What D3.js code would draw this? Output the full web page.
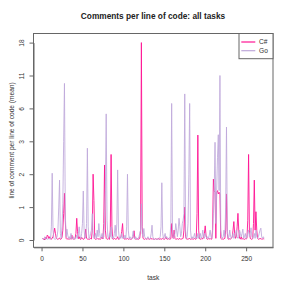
<!DOCTYPE html>
<html><head><meta charset="utf-8">
<script src="https://cdn.jsdelivr.net/npm/d3@7"></script>
<style>html,body{margin:0;padding:0;background:#fff;}svg{display:block;font-family:"Liberation Sans",Arial,sans-serif;}</style>
</head><body>
<svg id="c" width="291" height="291"></svg>
<script>
const title = "Comments per line of code: all tasks";
const xLabel = "task";
const yLabel = "line of comment per line of code (mean)";
const seriesNames = ["C#", "Go"];
const xTicks = [0, 50, 100, 150, 200, 250];
const yTickLabels = [0, 1, 2, 3, 6, 11, 18];

const csharp = [
0.05,0.02,0.04,0.0,0.08,0.03,0.15,0.12,0.04,0.1,0.05,0.02,0.06,0.1,0.22,0.36,0.2,0.05,0.03,0.02,
0.04,0.06,0.02,0.03,0.08,0.3,0.8,1.42,0.6,0.05,0.02,0.04,0.03,0.02,0.05,0.02,0.15,0.04,0.03,0.02,
0.05,0.2,0.66,0.25,0.04,0.1,0.03,0.02,0.08,0.04,0.02,0.03,0.1,0.33,0.05,0.03,0.02,0.04,0.02,0.05,
0.03,0.3,2.0,1.2,0.04,0.02,0.03,0.05,0.02,0.04,0.03,0.02,0.05,0.1,0.03,0.5,2.28,0.3,0.05,0.02,
0.03,0.04,0.02,0.3,2.6,0.4,0.03,0.02,0.05,0.03,0.02,0.04,0.1,0.02,0.03,0.05,0.1,0.26,0.5,0.08,
0.03,0.02,0.04,0.03,0.05,0.02,0.03,0.04,0.02,0.03,0.05,0.1,0.28,0.05,0.02,0.03,0.04,0.02,0.03,0.05,
0.3,18,0.4,0.05,0.03,0.02,0.04,0.03,0.02,0.05,0.03,0.02,0.04,0.03,0.05,0.02,0.03,0.02,0.04,0.03,
0.02,0.03,0.05,0.02,0.03,0.04,0.02,0.05,0.03,0.02,0.04,0.1,0.03,0.02,0.05,0.03,0.02,0.04,0.5,0.1,
0.05,0.3,0.05,0.02,0.03,0.04,0.02,0.03,0.05,0.02,0.03,0.04,0.05,0.3,1.0,0.1,0.03,0.02,0.04,0.03,
0.05,0.02,0.03,0.04,0.02,0.03,0.05,0.02,0.03,0.8,3.57,0.3,0.04,0.03,0.02,0.05,0.03,0.1,0.2,0.43,
0.15,0.03,0.02,0.04,0.03,0.05,0.02,0.03,0.3,1.85,1.5,1.45,0.05,1.45,1.5,1.4,1.45,1.4,0.05,0.03,
0.03,0.02,0.04,0.05,0.3,1.4,0.2,0.03,0.02,0.04,0.03,0.05,0.1,0.3,0.56,0.2,0.05,0.1,0.4,0.81,
0.3,0.05,0.03,0.1,0.02,0.05,0.03,0.02,0.04,0.03,0.05,0.6,2.6,0.3,0.05,0.03,0.02,0.04,0.5,1.82,
0.3,0.86,0.3,0.05,0.02,0.04,0.03,0.05,0.02,0.03,0.04,0.02
];
const go = [
0.05,0.02,0.03,0.1,0.02,0.04,0.03,0.02,0.05,0.03,0.02,0.4,2.03,0.3,0.05,0.03,0.02,0.05,0.1,0.3,
1.0,1.82,0.2,0.05,0.4,1.1,3.0,9.8,0.8,0.1,0.33,0.15,0.05,0.1,0.03,0.2,0.05,0.03,0.1,0.04,
0.02,0.05,0.15,0.05,0.2,0.4,0.1,0.05,0.2,0.5,1.49,0.3,0.05,0.1,0.5,2.79,0.4,0.05,0.1,0.2,
0.3,0.8,0.2,0.05,0.1,0.2,0.05,0.3,0.1,0.5,0.2,0.05,0.1,0.2,0.05,0.1,0.6,1.5,5.5,0.6,
0.1,0.05,0.2,0.1,0.4,0.05,0.1,0.05,0.2,0.45,0.1,0.5,2.13,0.3,0.05,0.1,0.05,0.2,0.05,0.1,
0.05,0.15,0.05,0.4,2.0,0.3,0.05,0.1,0.05,0.03,0.1,0.27,0.05,0.03,0.1,0.05,0.02,0.04,0.1,0.2,
0.3,1.1,0.2,0.1,0.35,0.1,0.05,0.03,0.05,0.1,0.05,0.03,0.05,0.2,0.45,0.1,0.03,0.02,0.04,0.03,
0.02,0.03,0.02,0.05,0.1,0.4,1.74,0.2,0.05,0.1,0.2,0.05,0.1,0.05,0.03,0.05,0.1,0.5,6.75,0.3,
0.05,0.1,0.2,0.5,0.3,0.1,0.3,0.66,0.4,0.1,0.2,0.5,0.6,0.8,8.2,0.3,0.05,0.1,0.5,2.0,
6.75,0.3,0.05,0.1,0.05,0.1,0.2,0.05,0.1,0.05,0.2,0.05,0.1,0.2,0.05,0.1,0.3,0.1,0.05,0.2,
0.1,0.05,0.1,0.05,0.15,0.3,0.1,0.05,0.2,0.8,1.5,2.97,0.5,1.5,2.5,3.6,1.5,11,0.3,0.1,
0.05,0.1,0.3,0.1,1.0,4.3,0.3,0.05,0.1,0.3,0.1,0.05,0.1,0.2,0.05,0.1,0.2,0.3,0.1,0.05,
0.1,0.3,0.2,0.1,0.2,0.33,0.05,0.1,0.2,0.05,0.1,0.2,0.3,0.1,0.2,0.37,0.1,0.05,0.1,0.2,
0.05,0.3,0.1,0.05,0.1,0.2,0.3,0.36,0.1,0.05,0.1,0.05
];
const colors = ["#FF1493", "#BEA8DA"];

const svg = d3.select("#c");
const L = 33.5, R = 273, T = 33.5, B = 247.3;
const n = csharp.length;
const pad = (n - 1) * 0.04;
const x = d3.scaleLinear().domain([1 - pad, n + pad]).range([L, R]);
// equally spaced (transformed) y positions; labels are values
const yPos = d3.scaleLinear().domain([0, 6]).range([240, 240 - 6 * 32.9]);
const y = d3.scaleLinear().domain(yTickLabels).range(yTickLabels.map((d, i) => yPos(i)));

svg.append("rect").attr("width", 291).attr("height", 291).attr("fill", "#fff");

const line = d3.line().x((d, i) => x(i + 1)).y(d => y(d));
[csharp, go].forEach((s, k) => {
  svg.append("path").datum(s).attr("d", line).attr("fill", "none")
    .attr("stroke", colors[k]).attr("stroke-width", 1)
    .attr("stroke-opacity", k === 0 ? 0.9 : 0.85).attr("stroke-linejoin", "round");
});

svg.append("rect").attr("x", L).attr("y", T).attr("width", R - L).attr("height", B - T)
  .attr("fill", "none").attr("stroke", "#666").attr("stroke-width", 1);

// x axis
const xa = svg.append("g").attr("transform", `translate(0,${B})`)
  .call(d3.axisBottom(x).tickValues(xTicks).tickSize(4).tickPadding(5).tickSizeOuter(0));
xa.select(".domain").attr("stroke", "#666");
xa.selectAll(".tick line").attr("stroke", "#666");
xa.selectAll("text").attr("font-size", 6.6).attr("fill", "#333").attr("font-family", "Liberation Sans, Arial, sans-serif");

// y axis
const ya = svg.append("g").attr("transform", `translate(${L},0)`)
  .call(d3.axisLeft(y).tickValues(yTickLabels).tickSize(4).tickFormat(d3.format("d")).tickSizeOuter(0));
ya.select(".domain").attr("stroke", "#666");
ya.selectAll(".tick line").attr("stroke", "#666");
ya.selectAll("text").attr("font-size", 6.6).attr("fill", "#333")
  .attr("font-family", "Liberation Sans, Arial, sans-serif")
  .attr("text-anchor", "middle").attr("dy", 0).attr("x", 0)
  .attr("transform", "translate(-10,0) rotate(-90)");

svg.append("text").attr("x", 153).attr("y", 19).attr("text-anchor", "middle")
  .attr("font-size", 8.3).attr("font-weight", "bold").attr("fill", "#222").text(title);
svg.append("text").attr("x", (L + R) / 2).attr("y", 280).attr("text-anchor", "middle")
  .attr("font-size", 6.6).attr("fill", "#333").text(xLabel);
svg.append("text").attr("transform", `translate(14,${(T + B) / 2}) rotate(-90)`)
  .attr("text-anchor", "middle").attr("font-size", 6.6).attr("fill", "#333").text(yLabel);

// legend
const lg = svg.append("g");
lg.append("rect").attr("x", 239).attr("y", T).attr("width", R - 239).attr("height", 25.2)
  .attr("fill", "#fff").attr("stroke", "#666").attr("stroke-width", 1);
seriesNames.forEach((nm, i) => {
  const yy = 42 + i * 8.7;
  lg.append("line").attr("x1", 241.3).attr("x2", 255.3).attr("y1", yy).attr("y2", yy)
    .attr("stroke", colors[i]).attr("stroke-width", 1.2);
  lg.append("text").attr("x", 259).attr("y", yy).attr("dy", "0.35em")
    .attr("font-size", 6.6).attr("fill", "#333").text(nm);
});
</script>
</body></html>
